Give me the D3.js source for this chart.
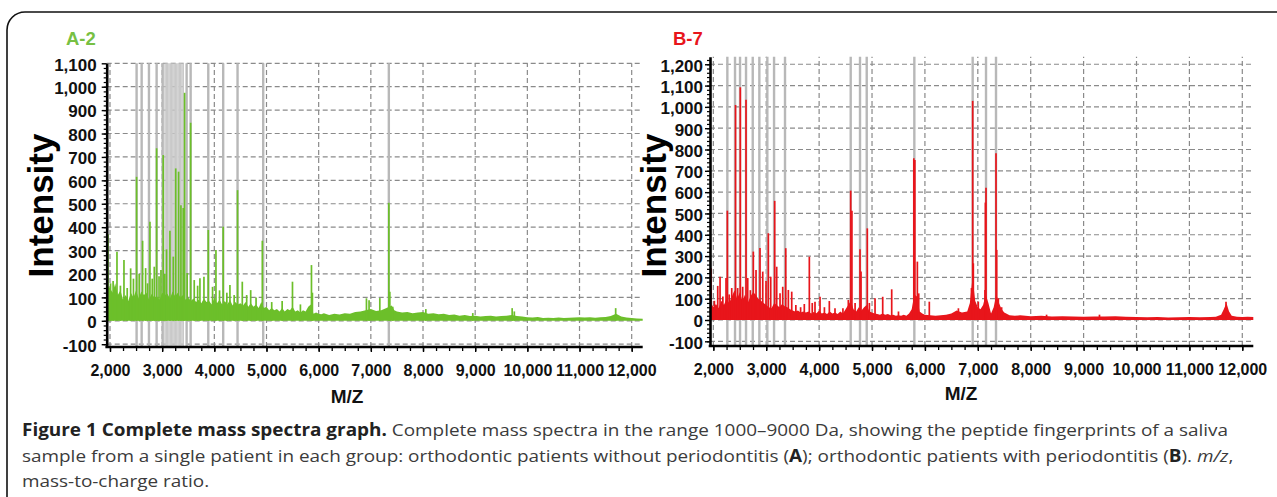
<!DOCTYPE html>
<html><head><meta charset="utf-8">
<script src="https://cdn.jsdelivr.net/npm/d3@7"></script>
<style>body{margin:0;background:#fff}svg{display:block}</style>
</head><body>
<svg id="c" width="1277" height="497"></svg>
<script>
// ---------- DATA ----------
const mzTicks = [2000,3000,4000,5000,6000,7000,8000,9000,10000,11000,12000];
const intensityTicksA = [-100,0,100,200,300,400,500,600,700,800,900,1000,1100];
const intensityTicksB = [-100,0,100,200,300,400,500,600,700,800,900,1000,1100,1200];

const markersA = [2510,2607,2747,2894,3010,3469,3546,3884,4170,4445,4937,7345];
const bandA = [3055,3080,3105,3130,3155,3180,3205,3230,3255,3280,3305,3330,3355,3380,3405];
const markersB = [2265,2410,2505,2618,2745,2870,3021,3148,3355,4597,4773,4900,5800,6903,7155,7344];

const noiseA = [[1937,140],[1950,150],[2000,140],[2050,120],[2100,160],[2150,110],[2200,130],[2250,90],[2300,110],[2350,85],[2400,120],[2450,100],[2500,130],[2550,95],[2600,125],[2650,110],[2700,120],[2750,90],[2800,115],[2850,100],[2900,105],[2950,90],[3000,120],[3050,110],[3100,115],[3150,95],[3200,125],[3250,105],[3300,120],[3350,100],[3400,110],[3450,90],[3500,100],[3550,85],[3600,95],[3650,80],[3700,90],[3750,75],[3800,95],[3850,80],[3900,85],[3950,70],[4000,100],[4050,75],[4100,90],[4150,70],[4200,85],[4250,70],[4300,90],[4350,65],[4400,80],[4450,70],[4500,75],[4550,65],[4600,80],[4650,60],[4700,75],[4750,60],[4800,70],[4850,55],[4900,80],[4950,55],[5000,60],[5050,45],[5100,55],[5150,45],[5200,50],[5250,40],[5300,55],[5350,40],[5400,50],[5450,45],[5500,60],[5550,40],[5600,45],[5650,35],[5700,45],[5750,40],[5800,60],[5850,70],[5900,30],[5950,35],[6000,30],[6050,28],[6100,32],[6200,25],[6300,30],[6400,27],[6500,32],[6600,30],[6700,38],[6800,40],[6900,45],[7000,50],[7100,42],[7200,45],[7300,55],[7400,65],[7450,45],[7500,40],[7600,35],[7700,38],[7800,32],[7900,35],[8000,38],[8100,30],[8200,32],[8300,28],[8400,30],[8500,25],[8600,27],[8700,22],[8800,25],[8900,20],[9000,22],[9100,18],[9200,20],[9300,22],[9400,18],[9500,20],[9600,22],[9700,25],[9800,20],[9900,18],[10000,15],[10100,14],[10200,16],[10300,12],[10400,13],[10500,12],[10600,14],[10700,12],[10800,13],[10900,14],[11000,15],[11100,14],[11200,15],[11300,13],[11400,15],[11500,16],[11600,20],[11700,30],[11800,18],[11900,14],[12000,12],[12100,10],[12211,9]];

const peaksA = [[1960,370],[2010,160],[2060,170],[2134,295],[2200,150],[2268,260],[2330,140],[2396,224],[2450,180],[2510,615],[2560,200],[2625,342],[2683,225],[2720,160],[2766,423],[2810,180],[2849,231],[2894,737],[2940,190],[2977,217],[3020,708],[3050,200],[3084,305],[3149,385],[3213,274],[3260,651],[3315,637],[3360,494],[3404,482],[3430,974],[3479,204],[3546,846],[3615,174],[3680,150],[3724,182],[3801,188],[3884,388],[3966,145],[4031,302],[4100,130],[4170,402],[4240,120],[4299,153],[4380,110],[4445,558],[4536,167],[4620,110],[4697,131],[4800,100],[4920,342],[5100,80],[5300,85],[5498,167],[5650,70],[5862,238],[5880,120],[6916,96],[6966,88],[7172,97],[7345,504],[7364,124],[7420,60],[8054,50],[8954,33],[9709,54],[9750,40],[11693,54]];

const noiseB = [[1937,80],[1950,85],[2000,60],[2050,75],[2100,55],[2150,90],[2200,70],[2250,100],[2300,80],[2350,110],[2400,140],[2450,100],[2500,130],[2550,90],[2600,120],[2650,80],[2700,110],[2750,130],[2800,120],[2850,100],[2900,90],[2950,80],[3000,70],[3050,60],[3100,55],[3150,80],[3200,70],[3250,60],[3300,75],[3350,65],[3400,60],[3450,50],[3500,45],[3550,40],[3600,45],[3650,35],[3700,40],[3750,35],[3800,40],[3850,30],[3900,38],[3950,32],[4000,45],[4050,30],[4100,35],[4150,28],[4200,40],[4250,30],[4300,35],[4350,28],[4400,40],[4450,30],[4500,50],[4550,70],[4600,90],[4650,50],[4700,40],[4750,60],[4800,45],[4850,60],[4900,70],[4950,40],[5000,35],[5050,30],[5100,28],[5150,25],[5200,30],[5250,25],[5300,28],[5350,22],[5400,25],[5450,20],[5500,22],[5550,20],[5600,25],[5650,20],[5700,30],[5750,50],[5800,120],[5850,110],[5900,40],[5950,30],[6000,25],[6100,22],[6200,20],[6300,22],[6400,25],[6500,30],[6600,45],[6700,35],[6800,40],[6850,80],[6900,200],[6950,90],[7000,60],[7050,50],[7100,70],[7150,120],[7200,80],[7250,30],[7300,60],[7350,120],[7400,80],[7450,50],[7500,35],[7600,22],[7700,20],[7800,22],[7900,20],[8000,18],[8200,20],[8400,17],[8600,18],[8800,16],[9000,15],[9200,17],[9400,16],[9600,18],[9800,15],[10000,14],[10200,13],[10400,14],[10600,12],[10800,13],[11000,14],[11200,13],[11400,14],[11500,15],[11600,25],[11650,50],[11700,80],[11750,40],[11800,20],[11900,15],[12000,14],[12100,15],[12208,14]];

const peaksB = [[1957,243],[2020,90],[2083,160],[2127,203],[2180,110],[2240,197],[2265,513],[2300,120],[2348,150],[2420,1009],[2460,150],[2510,1092],[2555,156],[2618,1033],[2650,197],[2700,140],[2756,321],[2807,235],[2882,338],[2934,227],[2996,183],[3040,407],[3085,203],[3160,559],[3198,250],[3261,125],[3312,156],[3369,337],[3418,141],[3482,133],[3560,70],[3650,60],[3720,75],[3815,297],[3870,80],[3922,86],[4017,109],[4100,60],[4193,89],[4300,55],[4450,55],[4552,94],[4597,607],[4620,513],[4680,80],[4773,332],[4792,227],[4911,430],[4950,80],[5057,102],[5202,109],[5372,144],[5500,40],[5790,759],[5810,751],[5857,274],[5883,125],[6083,86],[6633,55],[6880,150],[6903,1028],[6915,266],[7009,86],[7136,141],[7143,551],[7155,621],[7344,782],[7357,329],[7388,102],[7450,60],[8300,25],[9300,25],[11692,86]];

// ---------- DRAW ----------
const svg = d3.select("#c");
svg.append("rect").attr("x",7).attr("y",12).attr("width",1320).attr("height",540)
  .attr("rx",18).attr("fill","none").attr("stroke","#111").attr("stroke-width",1.6);

const tickFont = "'Liberation Sans', Arial, sans-serif";
const fmt = d => d3.format(",")(d).replace("\u2212","-");

function panel(o){
  const x = d3.scaleLinear().domain(o.xDomain).range(o.xRange);
  const y = d3.scaleLinear().domain(o.yDomain).range(o.yRange);
  const [x0,x1] = o.xRange, [yb,yt] = o.yRange;
  const g = svg.append("g");
  // grid
  g.append("g").selectAll("line").data(o.yTicks).join("line")
    .attr("x1",x0).attr("x2",x1).attr("y1",d=>y(d)).attr("y2",d=>y(d))
    .attr("stroke","#8a8a8a").attr("stroke-width",1.2).attr("stroke-dasharray","5,3");
  g.append("g").selectAll("line").data(mzTicks).join("line")
    .attr("x1",d=>x(d)).attr("x2",d=>x(d)).attr("y1",yb).attr("y2",yt)
    .attr("stroke","#8a8a8a").attr("stroke-width",1.2).attr("stroke-dasharray","5,3");
  // marker lines
  g.append("g").selectAll("line").data(o.band).join("line")
    .attr("x1",d=>x(d)).attr("x2",d=>x(d)).attr("y1",yb).attr("y2",yt)
    .attr("stroke","#c9c9c9").attr("stroke-width",1.4);
  g.append("g").selectAll("line").data(o.markers).join("line")
    .attr("x1",d=>x(d)).attr("x2",d=>x(d)).attr("y1",yb).attr("y2",yt)
    .attr("stroke","#b8b8b8").attr("stroke-width",2.4);
  // noise area
  const area = d3.area().x(d=>x(d[0])).y0(y(0)).y1(d=>y(d[1]));
  g.append("path").datum(o.noise).attr("d",area).attr("fill",o.color);
  // peaks
  g.append("g").selectAll("line").data(o.peaks).join("line")
    .attr("x1",d=>x(d[0])).attr("x2",d=>x(d[0])).attr("y1",y(0)).attr("y2",d=>y(d[1]))
    .attr("stroke",o.color).attr("stroke-width",1.7);
  // axes
  const yMinor = d3.range(-100, o.yDomain[1], 20);
  g.append("g").attr("transform",`translate(${x0},0)`)
    .call(d3.axisLeft(y).tickValues(yMinor).tickSize(3).tickSizeOuter(0).tickFormat(""))
    .call(s=>s.select(".domain").remove())
    .call(s=>s.selectAll("line").attr("stroke","#000").attr("stroke-width",1.2));
  const ya = g.append("g").attr("transform",`translate(${x0},0)`)
    .call(d3.axisLeft(y).tickValues(o.yTicks).tickSize(5).tickSizeOuter(0).tickPadding(o.yPad).tickFormat(fmt));
  ya.select(".domain").attr("stroke","#000").attr("stroke-width",2.6);
  ya.selectAll("line").attr("stroke","#000").attr("stroke-width",1.4);
  ya.selectAll("text").attr("font-family",tickFont).attr("font-weight","bold")
    .attr("font-size",17).attr("fill","#111").attr("dy","0.4em");
  const xMinor = d3.range(2000, o.xDomain[1], 250);
  g.append("g").attr("transform",`translate(0,${yb})`)
    .call(d3.axisBottom(x).tickValues(xMinor).tickSize(4).tickSizeOuter(0).tickFormat(""))
    .call(s=>s.select(".domain").remove())
    .call(s=>s.selectAll("line").attr("stroke","#000").attr("stroke-width",1.3));
  const xa = g.append("g").attr("transform",`translate(0,${yb})`)
    .call(d3.axisBottom(x).tickValues(mzTicks).tickSize(5).tickSizeOuter(0).tickPadding(12.5).tickFormat(fmt));
  xa.select(".domain").attr("stroke","#000").attr("stroke-width",2.6)
    .attr("d",`M${x0-1.3},0H${x1}`);
  xa.selectAll("line").attr("stroke","#000").attr("stroke-width",1.4);
  xa.selectAll("text").attr("font-family",tickFont).attr("font-weight","bold")
    .attr("font-size",16).attr("fill","#111");
  // titles
  g.append("text").attr("transform",`translate(${o.intX},205.5) rotate(-90)`)
    .attr("text-anchor","middle").attr("font-family",tickFont).attr("font-weight","bold")
    .attr("font-size",35).attr("fill","#000").text("Intensity");
  g.append("text").attr("x",o.mzX).attr("y",o.mzY).attr("text-anchor","middle")
    .attr("font-family",tickFont).attr("font-weight","bold").attr("font-size",19)
    .attr("fill","#111").text("M/Z");
  g.append("text").attr("x",o.labX).attr("y",45).attr("font-family",tickFont)
    .attr("font-weight","bold").attr("font-size",18.5).attr("fill",o.labColor).text(o.label);
}

panel({xDomain:[1937,12211], xRange:[106.7,642.7], yDomain:[-112,1100], yRange:[347,63.3],
  yTicks:intensityTicksA, markers:markersA, band:bandA, noise:noiseA, peaks:peaksA, color:"#6cbf2a",
  yPad:5, intX:53, mzX:347, mzY:403, labX:66, label:"A-2", labColor:"#77c043"});
panel({xDomain:[1937,12208], xRange:[710,1253.3], yDomain:[-122,1235], yRange:[346,56.8],
  yTicks:intensityTicksB, markers:markersB, band:[], noise:noiseB, peaks:peaksB, color:"#e8151b",
  yPad:2, intX:666, mzX:961, mzY:400, labX:673, label:"B-7", labColor:"#e8151b"});

// caption
const capFont = "'Open Sans', 'Noto Sans', sans-serif";
const cap = svg.append("g").attr("font-family",capFont).attr("font-size",17).attr("fill","#3b3b3b");
const l1 = cap.append("text").attr("x",22).attr("y",436);
l1.append("tspan").attr("font-weight","bold").attr("fill","#222").text("Figure 1 Complete mass spectra graph.");
l1.append("tspan").text(" Complete mass spectra in the range 1000\u20139000 Da, showing the peptide fingerprints of a saliva");
const l2 = cap.append("text").attr("x",22).attr("y",462);
l2.append("tspan").text("sample from a single patient in each group: orthodontic patients without periodontitis (");
l2.append("tspan").attr("font-weight","bold").attr("fill","#222").text("A");
l2.append("tspan").text("); orthodontic patients with periodontitis (");
l2.append("tspan").attr("font-weight","bold").attr("fill","#222").text("B");
l2.append("tspan").text("). ");
l2.append("tspan").attr("font-style","italic").text("m/z");
l2.append("tspan").text(",");
const l3 = cap.append("text").attr("x",22).attr("y",487).text("mass-to-charge ratio.");
const ratio = 1206 / l1.node().getComputedTextLength();
[l1,l2,l3].forEach(t=>{
  const w = t.node().getComputedTextLength();
  t.attr("textLength", w*ratio).attr("lengthAdjust","spacingAndGlyphs");
});
</script>
</body></html>
